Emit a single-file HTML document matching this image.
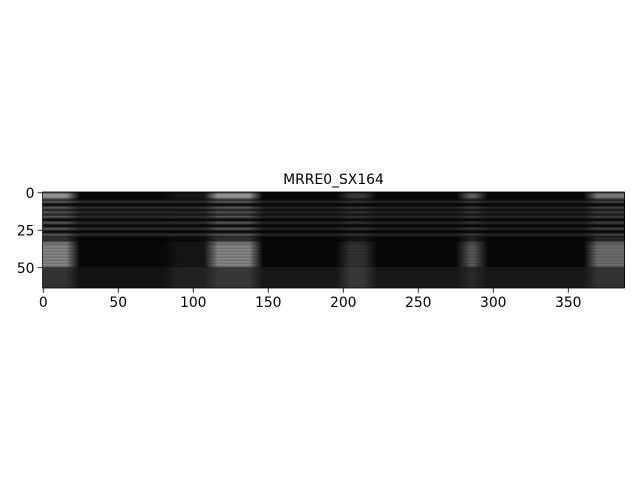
<!DOCTYPE html>
<html><head><meta charset="utf-8"><style>
body{margin:0;background:#fff;}
#wrap{position:relative;width:640px;height:480px;background:#fff;font-family:"DejaVu Sans","Liberation Sans",sans-serif;}
#cv{position:absolute;left:42.5px;top:192px;width:582px;height:96px;}
svg{position:absolute;left:0;top:0;}
</style></head><body>
<div id="wrap">
<canvas id="cv" width="388" height="64"></canvas>
<svg id="sv" width="640" height="480"></svg>
</div>
<script>
const segStart=[0,20,85,112,142,200,218,280,292,365];
const voicedAmp=[0.55,0.02,0.08,0.55,0.02,0.2,0.02,0.35,0.02,0.45];
const lineAmp=[0.35,0.17,0.18,0.35,0.14,0.2,0.14,0.22,0.14,0.26];
const lowAmp=[0.18,0.06,0.12,0.2,0.08,0.2,0.08,0.14,0.08,0.18];
const lineRows=[6,10,13,16,20,24,28];
const voicedRows=[1,2,3,36,38,40,42,44,46,48];
const lowRows=[50,51,52,53,54,55,56,57,58,59,60,61,62,63];
const xTicks=[0,50,100,150,200,250,300,350];
const yTicks=[0,25,50];
const title="MRRE0_SX164";
const nCols=388,nRows=64;
const X0=42.5,Y0=192,S=1.5;
const xs=v=>X0+(v+0.5)*S, ys=v=>Y0+(v+0.5)*S;
const cv=document.getElementById('cv'),ctx=cv.getContext('2d');
const img=ctx.createImageData(nCols,nRows);
function seg(c){let k=0;for(let i=0;i<segStart.length;i++)if(c>=segStart[i])k=i;return k;}
function amp(arr,c){let s=0,n=0;for(let d=-4;d<=4;d++){const cc=Math.min(nCols-1,Math.max(0,c+d));s+=arr[seg(cc)];n++;}return s/n;}
for(let c=0;c<nCols;c++){
 const va=amp(voicedAmp,c),la=amp(lineAmp,c),lo=amp(lowAmp,c);
 for(let r=0;r<nRows;r++){
  let v=0.015;
  if(lineRows.includes(r))v+=la;
  else if(lineRows.includes(r-1)||lineRows.includes(r+1))v+=la*0.4;
  if(r<5)v+=va*(voicedRows.includes(r)?1:0.5);
  if(r>=33&&r<50)v+=va*(voicedRows.includes(r)?0.95:0.75);
  if(r>=30&&r<33)v+=va*0.3;
  if(lowRows.includes(r))v+=lo;
  v=Math.min(1,v);const g=Math.round(v*255),i=(r*nCols+c)*4;
  img.data[i]=img.data[i+1]=img.data[i+2]=g;img.data[i+3]=255;}}
ctx.putImageData(img,0,0);
const sv=document.getElementById('sv'),NS='http://www.w3.org/2000/svg';
function mk(t,a,txt){const e=document.createElementNS(NS,t);for(const k in a)e.setAttribute(k,a[k]);if(txt!==undefined)e.textContent=txt;sv.appendChild(e);return e;}
let fr=mk('rect',{x:X0,y:Y0,width:582,height:96,fill:'none',stroke:'#000','stroke-width':0.8});


xTicks.forEach(v=>{const x=xs(v);
 let l=mk('line',{x1:x,x2:x,y1:288,y2:292.9,stroke:'#000','stroke-width':0.8});
 
 
 let t=mk('text',{x:x,y:307,'text-anchor':'middle',style:'font-size:13.9px'},v);
 
 });
yTicks.forEach(v=>{const y=ys(v);
 let l=mk('line',{x1:X0,x2:X0-4.9,y1:y,y2:y,stroke:'#000','stroke-width':0.8});
 
 
 let t=mk('text',{x:X0-8,y:y+5,'text-anchor':'end',style:'font-size:13.9px'},v);
 
 });
let tt=mk('text',{x:333.5,y:184,'text-anchor':'middle',style:'font-size:13.9px'},title);


</script>
</body></html>
